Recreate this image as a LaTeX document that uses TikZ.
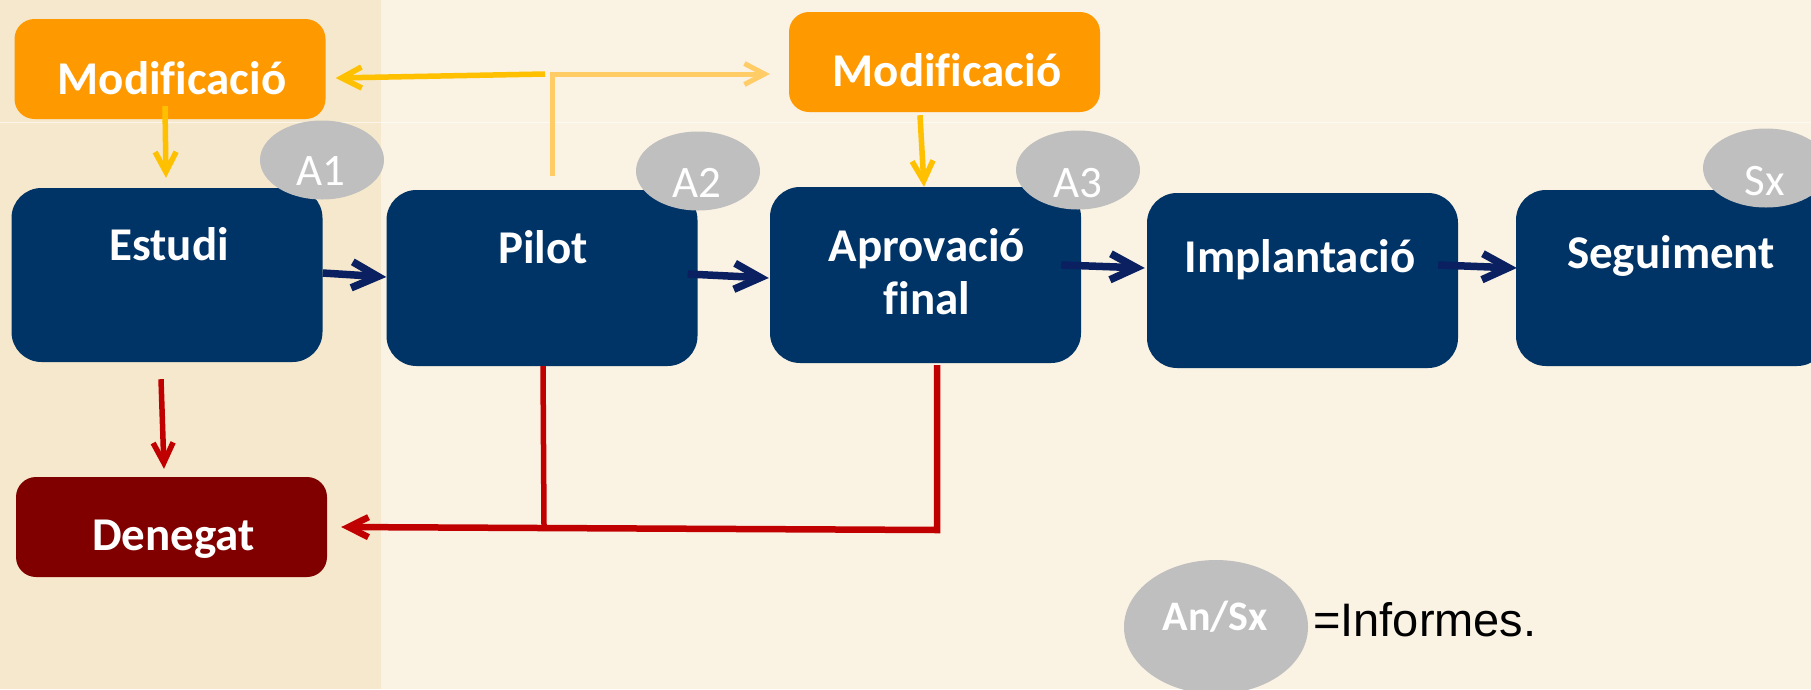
\documentclass[tikz,border=0pt]{standalone}
\usepackage{fontspec}
\setmainfont{Carlito}[Ligatures={NoCommon}]
\newfontfamily\arialf{Liberation Sans}
\usetikzlibrary{arrows.meta,calc,shapes.geometric}
\definecolor{stripc}{HTML}{F6E8CC}
\definecolor{bgc}{HTML}{FAF2E3}
\definecolor{orangec}{HTML}{FF9900}
\definecolor{navyc}{HTML}{003366}
\definecolor{grayc}{HTML}{BFBFBF}
\definecolor{denc}{HTML}{800000}
\definecolor{redc}{HTML}{C00000}
\definecolor{yelc}{HTML}{FFC000}
\definecolor{lightorc}{HTML}{FFCC66}
\definecolor{arrnavy}{HTML}{0A2060}
\begin{document}
\begin{tikzpicture}[x=1pt,y=-1pt,
  bluebox/.style={rectangle, rounded corners=30pt, inner sep=0pt, minimum width=311pt, minimum height=175pt, fill=navyc},
  obox/.style={rectangle, rounded corners=20pt, inner sep=0pt, minimum width=311pt, minimum height=100pt, fill=orangec},
  rbox/.style={rectangle, rounded corners=20pt, inner sep=0pt, minimum width=311pt, minimum height=100pt, fill=denc},
  lbl/.style={text=white, font=\fontsize{47}{53}\selectfont\bfseries, anchor=base, inner sep=0pt},
  rep/.style={ellipse, fill=grayc, inner sep=0pt, minimum width=124pt, minimum height=79pt},
  replbl/.style={text=white, font=\fontsize{45}{50}\selectfont, anchor=base, inner sep=0pt},
  barr/.style={draw=arrnavy, line width=7.5pt, -{Straight Barb[length=26pt,width=26pt]}},
  yarr/.style={draw=yelc, line width=5.5pt, -{Straight Barb[length=20pt,width=21pt]}},
  larr/.style={draw=lightorc, line width=5pt, -{Straight Barb[length=20pt,width=21pt]}},
  rarr/.style={draw=redc, line width=5.5pt, -{Straight Barb[length=20pt,width=20pt]}},
  rline/.style={draw=redc, line width=5.5pt}
]
\useasboundingbox (0,0) rectangle (1811,689);
\clip (0,0) rectangle (1811,689);
\fill[bgc] (0,0) rectangle (1811,689);
\fill[stripc] (0,0) rectangle (381,689);
\draw[white, opacity=0.6, line width=1pt] (0,122) -- (1811,122);

% boxes
\node[obox] (mod1) at (170,69) {};
\node[lbl] (mod1t) at (172,94) {Modificació};
\node[obox] (mod2) at (944.5,62) {};
\node[lbl] (mod2t) at (947,86) {Modificació};
\node[bluebox, minimum height=174pt] (estudi) at (167,275) {};
\node[lbl] (estudit) at (169,260) {Estudi};
\node[bluebox, minimum height=176pt] (pilot) at (542,278) {};
\node[lbl] (pilott) at (543,263) {Pilot};
\node[bluebox, minimum height=176pt] (aprov) at (925.5,275) {};
\node[lbl] (aprovt) at (927,261) {Aprovació};
\node[lbl] (aprovt2) at (927,314) {final};
\node[bluebox] (impl) at (1302.5,280.5) {};
\node[lbl] (implt) at (1300,272) {Implantació};
\node[bluebox, minimum height=176pt] (segu) at (1671.5,278) {};
\node[lbl] (segut) at (1671,268) {Seguiment};
\node[rbox] (deneg) at (171.5,527) {};
\node[lbl] (denegt) at (173.5,550) {Denegat};

% connectors
\draw[yarr] ($(mod1.south)+(-5,-13)$) -- ($(estudi.north)+(-1,-10)$);
\draw[yarr] ($(mod2.south)+(-24.5,3)$) -- ($(aprov.north)+(-1.5,0)$);
\coordinate (jn) at (552,74);
\draw[larr] ($(pilot.north)+(10,-14)$) -- (jn) -- ($(mod2.west)+(-19,12)$);
\draw[yarr] ($(jn)+(-7,0)$) -- ($(mod1.east)+(10,9)$);

\draw[rarr] ($(estudi.south)+(-6,17)$) -- ($(deneg.north)+(-7.5,-8)$);
\coordinate (rj) at (937,530);
\draw[rline] ($(pilot.south)+(1,0)$) -- ($(pilot.south)+(2,159)$);
\draw[rarr, line width=6.5pt] ($(aprov.south)+(11.5,2)$) -- (rj) -- ($(deneg.east)+(14,0)$);

\draw[barr] ($(estudi.east)+(0,-2)$) -- ($(pilot.west)+(0,-1)$);
\draw[barr] ($(pilot.east)+(-10,-4)$) -- ($(aprov.west)+(-1,3)$);
\draw[barr] ($(aprov.east)+(-20,-10)$) -- ($(impl.west)+(-2,-12.5)$);
\draw[barr] ($(impl.east)+(-20,-15.5)$) -- ($(segu.west)+(1,-10)$);

% report ellipses
\node[rep] (a1) at (322,160) {};
\node[replbl] (a1t) at (321,185) {A1};
\node[rep] (a2) at (698,171) {};
\node[replbl] (a2t) at (697,197) {A2};
\node[rep] (a3) at (1078,170) {};
\node[replbl] (a3t) at (1078,197) {A3};
\node[rep, minimum width=126pt] (sx) at (1766,168) {};
\node[replbl] (sxt) at (1765,195) {Sx};

% legend
\node[rep, minimum width=184pt, minimum height=134pt] (leg) at (1216,627) {};
\node[text=white, font=\fontsize{42}{48}\selectfont\bfseries, anchor=base, inner sep=0pt] (legt) at (1215.5,630) {An/Sx};
\node[font=\arialf\fontsize{47}{54}\selectfont, anchor=base west, inner sep=0pt] (inf) at (1313,636) {=Informes.};
\end{tikzpicture}
\end{document}
